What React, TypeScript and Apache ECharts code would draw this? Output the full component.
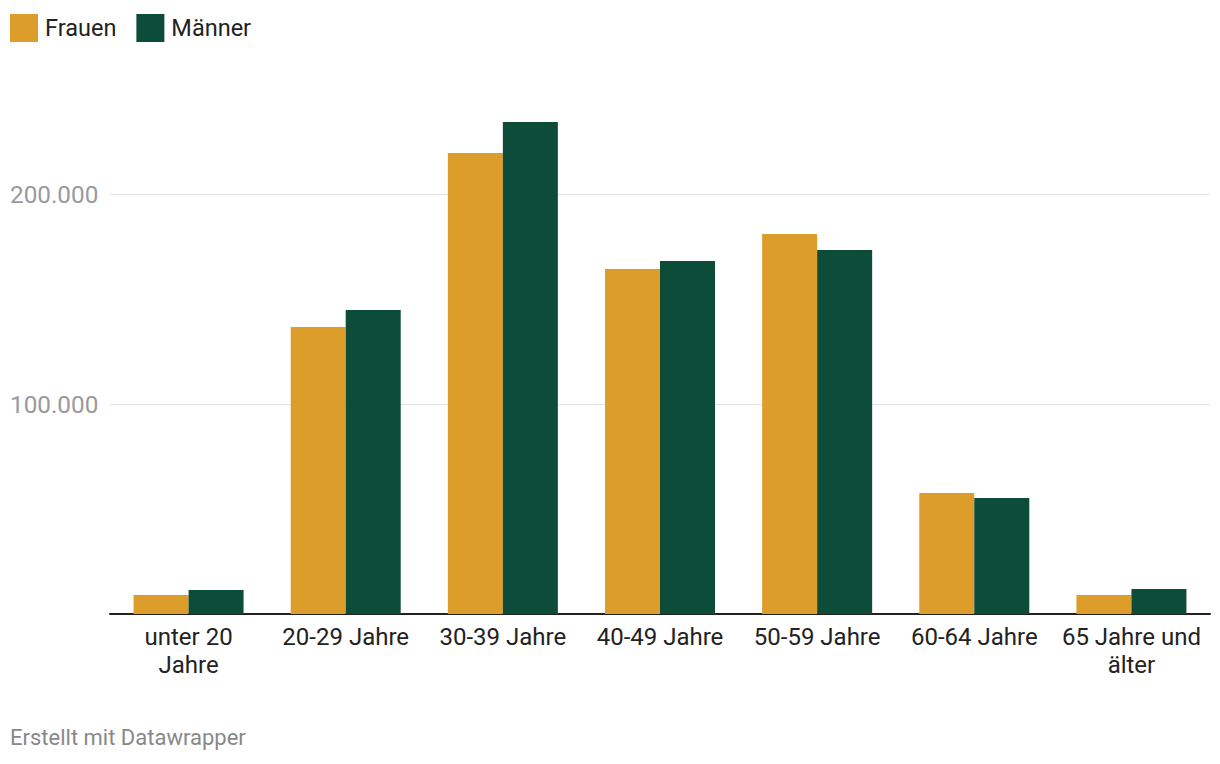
import React, { useEffect, useRef } from "react";
import * as echarts from "echarts";

const categories = [
  "unter 20 Jahre",
  "20-29 Jahre",
  "30-39 Jahre",
  "40-49 Jahre",
  "50-59 Jahre",
  "60-64 Jahre",
  "65 Jahre und älter",
];
const frauen = [9000, 136700, 219500, 164300, 181000, 57600, 9000];
const maenner = [11400, 144800, 234300, 168100, 173300, 55200, 11900];
const seriesNames = ["Frauen", "Männer"];
const footerText = "Erstellt mit Datawrapper";
const yTicks = [100000, 200000];

const labelLines: Record<string, string> = {
  "unter 20 Jahre": "unter 20\nJahre",
  "65 Jahre und älter": "65 Jahre und\nälter",
};

function fmt(v: number): string {
  return String(Math.round(v)).replace(/\B(?=(\d{3})+(?!\d))/g, ".");
}

export default function App() {
  const ref = useRef<HTMLDivElement>(null);
  useEffect(() => {
    if (!ref.current) return;
    const chart = echarts.init(ref.current, null, { renderer: "svg" });
    const font = "Roboto, 'Noto Sans', sans-serif";
    chart.setOption({
      animation: false,
      textStyle: { fontFamily: font },
      legend: {
        left: 10,
        top: 14,
        padding: 0,
        icon: "rect",
        itemWidth: 28,
        itemHeight: 28,
        itemGap: 20,
        textStyle: { fontSize: 23.5, color: "#222", fontFamily: font, padding: [0, 0, 5, 2] },
        data: seriesNames,
      },
      grid: { left: 110, right: 10, top: 89, height: 525 },
      xAxis: {
        type: "category",
        data: categories,
        axisTick: { show: false },
        axisLine: { lineStyle: { color: "#222", width: 2 } },
        axisLabel: {
          fontSize: 24,
          color: "#222",
          lineHeight: 28,
          margin: 9,
          fontFamily: font,
          interval: 0,
          formatter: (v: string) => labelLines[v] ?? v,
        },
      },
      yAxis: {
        type: "value",
        min: 0,
        max: 250000,
        interval: 100000,
        axisLine: { show: false },
        axisTick: { show: false },
        splitLine: {
          showMaxLine: false,
          lineStyle: { color: ["#e3e3e3", "#e3e3e3", "#e3e3e3", "rgba(0,0,0,0)"], width: 1 },
        },
        axisLabel: {
          align: "left",
          margin: 100,
          fontSize: 24.3,
          color: "#9a9a9a",
          fontFamily: font,
          formatter: (v: number) => (yTicks.indexOf(v) >= 0 ? fmt(v) : ""),
        },
      },
      series: [
        {
          name: seriesNames[0],
          type: "bar",
          data: frauen,
          barWidth: 55,
          barGap: "0%",
          itemStyle: { color: "#dc9d2a" },
        },
        {
          name: seriesNames[1],
          type: "bar",
          data: maenner,
          barWidth: 55,
          barGap: "0%",
          itemStyle: { color: "#0e4c3a" },
        },
      ],
      graphic: [
        {
          type: "text",
          left: 10,
          top: 726,
          style: { text: footerText, fontSize: 22, fill: "#888", fontFamily: font },
        },
      ],
    });
    return () => chart.dispose();
  }, []);
  return (
    <div
      ref={ref}
      style={{ position: "fixed", left: 0, top: 0, width: 1220, height: 764, background: "#fff" }}
    />
  );
}
